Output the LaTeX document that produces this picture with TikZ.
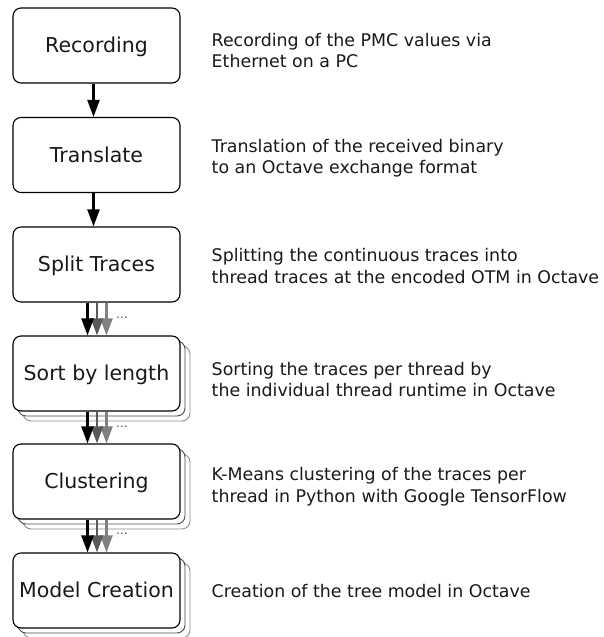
\documentclass[tikz,border=0pt]{standalone}
\usepackage{fontspec}
\setmainfont{DejaVu Sans}
\usetikzlibrary{arrows.meta}

\begin{document}
\begin{tikzpicture}[x=1pt,y=-1pt,
  stage/.style={draw=black, line width=1.1pt, rounded corners=8pt, fill=white,
    minimum width=167pt, minimum height=75pt, inner sep=0pt,
    font=\fontsize{20.5}{24}\selectfont, text=black!90},
  shadow1/.style={stage, draw=black!70, line width=0.9pt},
  shadow2/.style={stage, draw=black!45, line width=0.9pt},
  desc/.style={anchor=base west, align=left, inner sep=0pt,
    font=\fontsize{17.4}{21.7}\selectfont, text=black!90},
  flow/.style={line width=2.2pt, -{Triangle[length=17pt,width=12pt]}},
  flowA/.style={flow, draw=black},
  flowB/.style={flow, draw=black!65},
  flowC/.style={flow, draw=black!50},
  more/.style={anchor=base west, inner sep=0pt, font=\fontsize{12}{14}\selectfont, text=black!70}
]
\useasboundingbox (0,0) rectangle (603,637);

% single-trace stages
\node[stage] (rec) at (96.5,45.5) {};
\node[stage] (tr) at (96.5,155) {};
\node[stage] (split) at (96.5,264.5) {};

% per-thread stages, stacked copies behind
\node[shadow2] (sortb2) at (106.5,383.5) {};
\node[shadow1] (sortb1) at (101.5,378.5) {};
\node[stage] (sort) at (96.5,373.5) {};

\node[shadow2] (clusb2) at (106.5,491.5) {};
\node[shadow1] (clusb1) at (101.5,486.5) {};
\node[stage] (clus) at (96.5,481.5) {};

\node[shadow2] (modelb2) at (106.5,600.5) {};
\node[shadow1] (modelb1) at (101.5,595.5) {};
\node[stage] (model) at (96.5,590.5) {};

% stage titles
\foreach \n/\t in {rec/Recording, tr/Translate, split/Split Traces,
                   sort/Sort by length, clus/Clustering, model/Model Creation}
  \node[anchor=base, inner sep=0pt, font=\fontsize{20.5}{24}\selectfont, text=black!90]
    (\n-title) at ([yshift=-7pt]\n.center) {\t};

% connectors
\draw[flowA] ([xshift=-3pt]rec.south) -- ([xshift=-3pt]tr.north);
\draw[flowA] ([xshift=-3pt]tr.south) -- ([xshift=-3pt]split.north);

\foreach \a/\b in {split/sort, sort/clus, clus/model} {
  \draw[flowC] ([xshift=10pt]\a.south) -- ([xshift=10pt]\b.north);
  \draw[flowB] ([xshift=0.5pt]\a.south) -- ([xshift=0.5pt]\b.north);
  \draw[flowA] ([xshift=-9pt]\a.south) -- ([xshift=-9pt]\b.north);
}
\node[more] (dots1) at (116,318) {...};
\node[more] (dots2) at (116,427) {...};
\node[more] (dots3) at (116,534) {...};

% descriptions (base anchor sits on the last line)
\node[desc] (d1) at (211.5,67.7) {Recording of the PMC values via\\Ethernet on a PC};
\node[desc] (d2) at (211.5,173.7) {Translation of the received binary\\to an Octave exchange format};
\node[desc] (d3) at (211.5,283.4) {Splitting the continuous traces into\\thread traces at the encoded OTM in Octave};
\node[desc] (d4) at (211.5,396.7) {Sorting the traces per thread by\\the individual thread runtime in Octave};
\node[desc] (d5) at (211.5,502.4) {K-Means clustering of the traces per\\thread in Python with Google TensorFlow};
\node[desc] (d6) at (211.5,597.7) {Creation of the tree model in Octave};
\end{tikzpicture}
\end{document}
